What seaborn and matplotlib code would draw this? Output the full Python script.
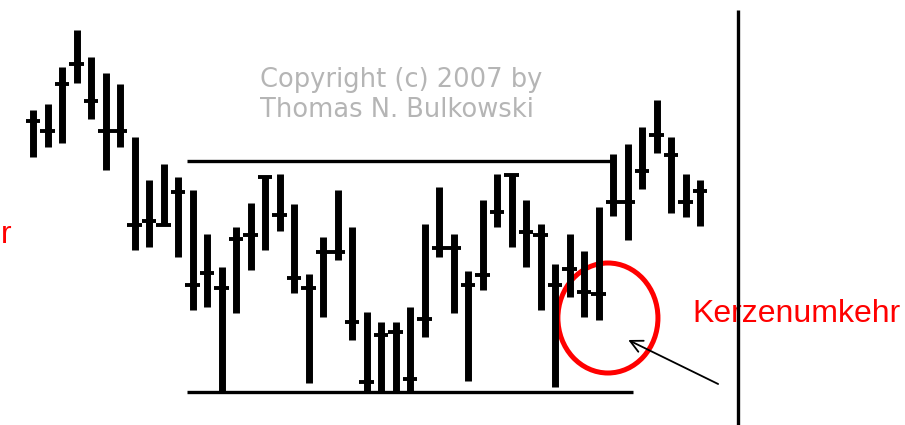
import numpy as np
import pandas as pd
import matplotlib
matplotlib.use("Agg")
import matplotlib.pyplot as plt
from matplotlib.patches import Ellipse
import seaborn as sns

# Daily OHLC bars (price units)
highs = [31.5, 32.1, 35.8, 39.5, 36.8, 35.2, 34.1, 28.8, 24.5, 26.1,
         24.8, 23.5, 19.1, 15.8, 19.8, 22.2, 24.8, 25.1, 22.1, 15.1,
         18.8, 23.5, 19.8, 11.3, 10.3, 10.3, 11.8, 20.1, 23.8, 19.1,
         15.4, 22.5, 25.1, 25.0, 22.5, 20.1, 16.1, 19.1, 17.4, 21.8,
         27.1, 28.1, 29.8, 32.5, 28.8, 25.1, 24.5]
lows = [26.8, 27.8, 28.2, 34.2, 30.6, 25.5, 27.8, 17.5, 17.8, 20.0,
        16.8, 11.5, 11.8, 3.3, 11.2, 15.5, 17.5, 19.4, 13.2, 4.2,
        10.8, 16.5, 8.5, 3.3, 3.3, 3.3, 3.3, 8.8, 16.8, 11.2,
        4.4, 13.5, 19.8, 17.8, 15.8, 11.5, 3.8, 12.8, 10.8, 10.5,
        20.9, 18.5, 23.6, 27.2, 21.2, 20.8, 19.9]
opens = [30.4, 29.4, 34.1, 36.1, 32.4, 29.4, 29.4, 20.0, 20.4, 20.0,
         23.3, 14.0, 15.2, 13.7, 18.6, 19.0, 24.8, 21.0, 14.7, 13.7,
         17.3, 17.3, 10.3, 4.3, 9.0, 9.3, 4.6, 10.6, 17.7, 17.7,
         14.0, 15.0, 21.3, 25.0, 19.3, 19.0, 14.0, 15.6, 13.3, 13.1,
         22.3, 22.3, 25.4, 29.0, 27.0, 22.3, 23.4]
closes = list(opens)

resistance = 26.4
support = 3.3

sns.set_theme(style="white")

fig = plt.figure(figsize=(9.05, 4.25), dpi=100)
ax = fig.add_axes([0, 0, 1, 1])
ax.set_facecolor("white")

n = len(highs)
idx = np.arange(n)

# high-low ranges as one vertical segment per bar
df = pd.DataFrame({
    "bar": np.repeat(idx, 2),
    "day": np.repeat(idx, 2).astype(float),
    "price": np.ravel(np.column_stack([lows, highs])),
})
sns.lineplot(data=df, x="day", y="price", units="bar", estimator=None,
             sort=False, color="black", linewidth=5.0, legend=False, ax=ax,
             solid_capstyle="butt")

# open (left) and close (right) ticks
tick = 0.5
ax.hlines(opens, idx - tick, idx, color="black", linewidth=2.8)
ax.hlines(closes, idx, idx + tick, color="black", linewidth=2.8)

# pattern boundaries
ax.hlines(resistance, 10.6, 39.95, color="black", linewidth=2.4)
ax.hlines(support, 10.6, 41.4, color="black", linewidth=2.4)

# vertical separator
ax.vlines(48.6, -1, 41.5, color="black", linewidth=2.4, zorder=4)

# highlighted reversal
ax.add_patch(Ellipse((39.65, 10.7), 6.9, 11.0, fill=False,
                     edgecolor="#ff0000", linewidth=3.6))
ax.annotate("", xy=(41.05, 8.5), xytext=(47.25, 4.1),
            arrowprops=dict(arrowstyle="->", color="black", lw=1.3,
                            mutation_scale=22, shrinkA=0, shrinkB=0))

ax.text(45.45, 10.3, "Kerzenumkehr", color="#ff0000", fontsize=23,
        family="Liberation Sans", ha="left", va="baseline")
ax.text(-2.2, 18.2, "r", color="#ff0000", fontsize=23,
        family="Liberation Sans", ha="left", va="baseline")

ax.text(15.65, 33.8, "Copyright (c) 2007 by", color="#b5b5b5", fontsize=18.5,
        family="DejaVu Sans", ha="left", va="baseline")
ax.text(15.65, 30.8, "Thomas N. Bulkowski", color="#b5b5b5", fontsize=18.5,
        family="DejaVu Sans", ha="left", va="baseline")

x0 = -33.0 / 14.5
ax.set_xlim(x0, x0 + 905 / 14.5)
ax.set_ylim(0, 42.5)
ax.axis("off")

fig.savefig("out.png", dpi=100, facecolor="white")
